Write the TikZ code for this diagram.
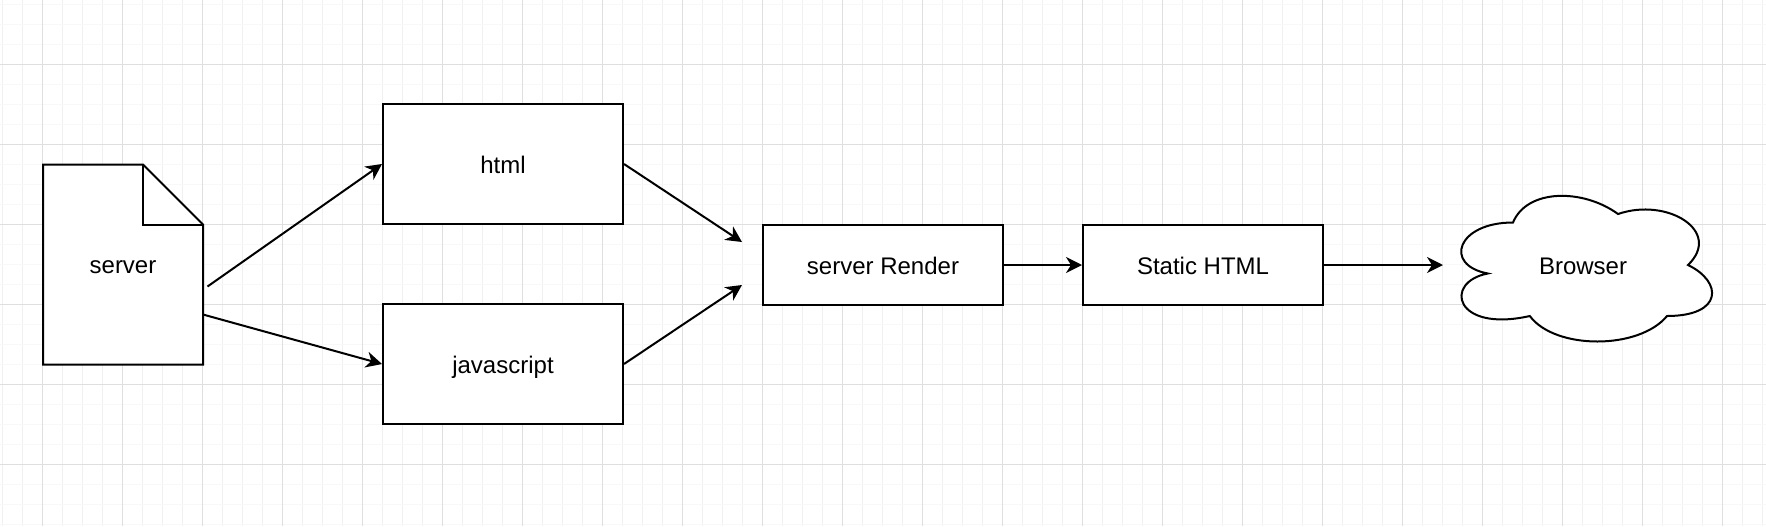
\documentclass[tikz,border=0pt]{standalone}
\usepackage{fontspec}
\setmainfont{Liberation Sans}
\usetikzlibrary{arrows.meta}
\definecolor{gridminor}{HTML}{F0F0F0}
\definecolor{gridminorh}{HTML}{F8F8F8}
\definecolor{gridmajor}{HTML}{DFDFDF}
\begin{document}
\begin{tikzpicture}[x=0.5pt,y=-0.5pt,
  lbl/.style={font=\fontsize{12}{14}\selectfont, inner sep=0pt, text height=12pt, text depth=2.7pt},
  box/.style={lbl, draw=black, line width=1pt, fill=white, minimum width=120pt},
  holder/.style={inner sep=0pt, outer sep=0pt},
  shapeline/.style={draw=black, line width=1pt, fill=white, line join=miter},
  conn/.style={line width=1pt, -{Stealth[length=8pt,width=8pt,inset=2.5pt]}}]
\fill[white] (0,0) rectangle (1766,526);
\useasboundingbox (0,0) rectangle (1766,526);
% grid
\foreach \x in {2,22,...,1762} \draw[gridminor, line width=0.5pt] (\x,0) -- (\x,526);
\foreach \y in {4,24,...,524} \draw[gridminorh, line width=0.5pt] (0,\y) -- (1766,\y);
\foreach \x in {42,122,...,1762} \draw[gridmajor, line width=0.5pt] (\x,0) -- (\x,526);
\foreach \y in {64,144,...,464} \draw[gridmajor, line width=0.5pt] (0,\y) -- (1766,\y);
% server document
\node[holder, minimum width=80pt, minimum height=100pt] (server) at (123,264.5) {};
\begin{scope}[shift={(server.north west)}]
  \path[shapeline] (0,0) -- (100,0) -- (160,60) -- (160,200) -- (0,200) -- cycle;
  \draw[line width=1pt] (100,0) -- (100,60) -- (160,60);
\end{scope}
\node[lbl] (servertext) at (server.center) {server};
% boxes
\node[box, minimum height=60pt] (html) at (503,164) {html};
\node[box, minimum height=60pt] (js) at (503,364) {javascript};
\node[box, minimum height=40pt] (render) at (883,265) {server Render};
\node[box, minimum height=40pt] (static) at (1203,265) {Static HTML};
% browser cloud
\node[holder, minimum width=140pt, minimum height=85pt] (browser) at (1583,265) {};
\begin{scope}[shift={(browser.north west)}, x=140pt, y=-85pt]
  \path[shapeline] (0.25,0.25)
    .. controls (0.05,0.25) and (0,0.5) .. (0.16,0.55)
    .. controls (0,0.6) and (0.04,0.9) .. (0.31,0.8)
    .. controls (0.4,1) and (0.7,1) .. (0.8,0.8)
    .. controls (1,0.8) and (1,0.6) .. (0.875,0.5)
    .. controls (1,0.3) and (0.8,0.1) .. (0.625,0.2)
    .. controls (0.5,0.05) and (0.3,0.05) .. (0.25,0.25) -- cycle;
\end{scope}
\node[lbl] (browsertext) at (browser.center) {Browser};
% connectors
\draw[conn] ([shift={(4.5,22)}]server.east) -- (html.west);
\draw[conn] ([shift={(0,50)}]server.east) -- (js.west);
\draw[conn] (html.east) -- ([shift={(-20,-23)}]render.west);
\draw[conn] (js.east) -- ([shift={(-20,20)}]render.west);
\draw[conn] (render.east) -- (static.west);
\draw[conn] (static.east) -- (browser.west);
\end{tikzpicture}
\end{document}
